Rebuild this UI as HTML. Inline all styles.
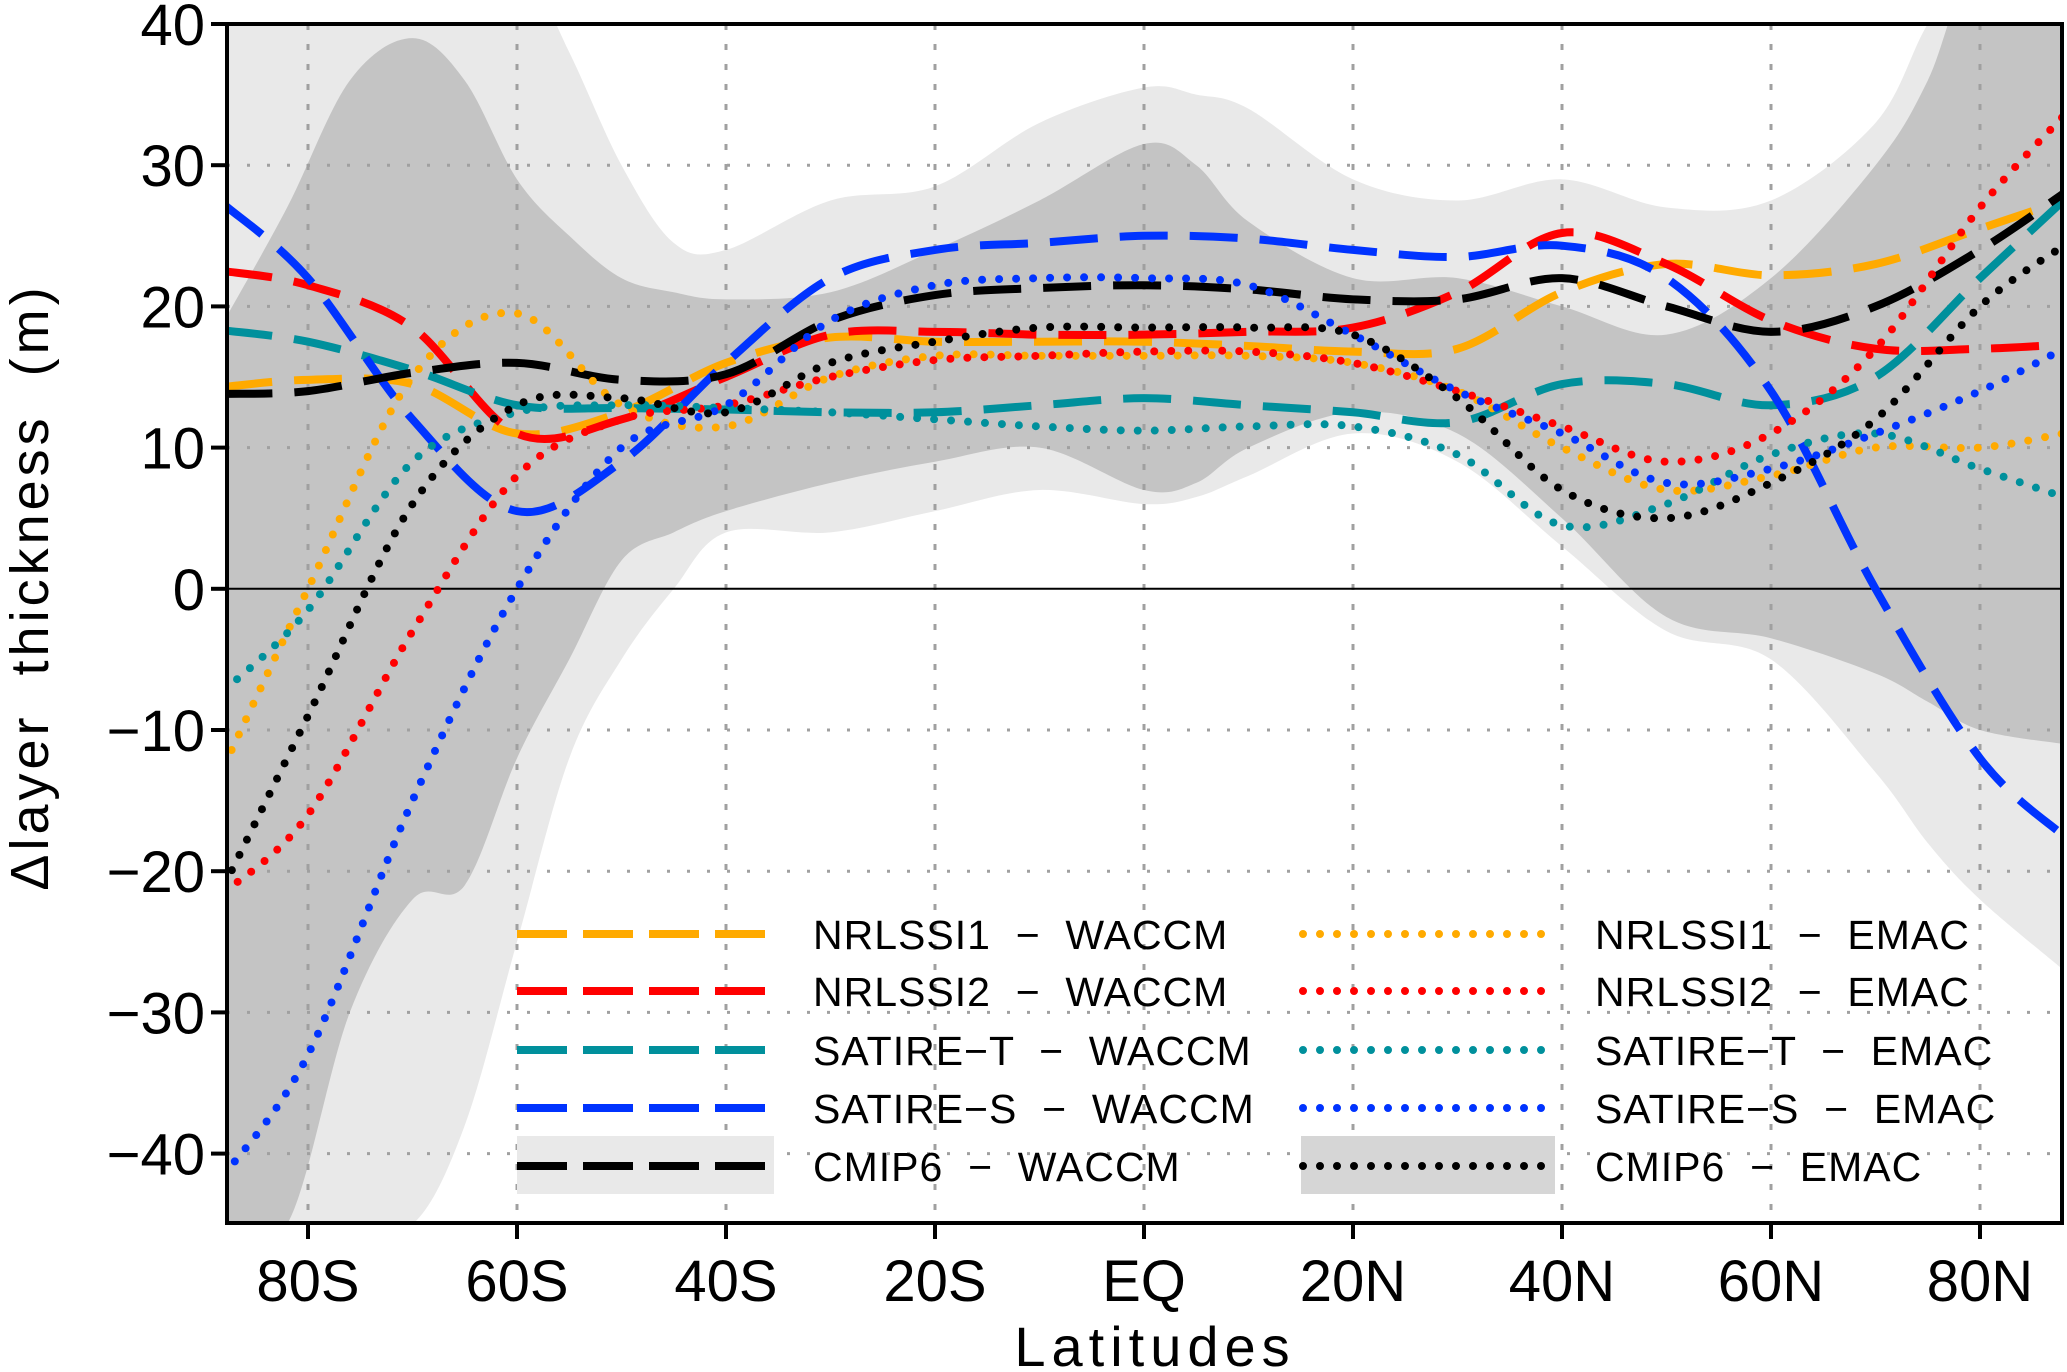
<!DOCTYPE html>
<html><head><meta charset="utf-8"><style>
body{margin:0;background:#fff}
svg{display:block}
text{font-family:"Liberation Sans",sans-serif;white-space:pre}
</style></head><body>
<svg id="chart" width="2067" height="1372" viewBox="0 0 2067 1372" xmlns="http://www.w3.org/2000/svg">
<g id="bands"></g>
<g id="grid"></g>
<g id="legendbg"></g>
<g id="series"></g>
<g id="axes"></g>
<g id="legend"></g>
</svg>
<script>
const lats = [-88,-80,-70,-60,-50,-40,-30,-20,-10,0,10,20,30,40,50,60,70,80,88];
const nrlssi1Waccm = [14.3,14.8,14.5,11,12.5,16,17.8,17.5,17.5,17.5,17.2,16.8,17,21,23,22.2,23,25.5,27.5];
const nrlssi2Waccm = [22.5,21.5,18.5,11,12,15,18,18.2,18,18,18.2,18.5,21,25.2,23,19,17,17,17.3];
const satireTWaccm = [18.3,17.5,15.5,13,12.8,12.7,12.5,12.5,13,13.5,13,12.5,11.8,14.5,14.5,13,15,22,27.5];
const satireSWaccm = [27.2,22,12,5.5,9,16,22,24,24.5,25,24.8,24,23.5,24.3,22,14,0,-12,-17.5];
const cmip6Waccm = [13.8,14,15.3,16,14.8,15.2,19,20.8,21.3,21.5,21.2,20.5,20.5,22,20,18.2,20,24,28];
const nrlssi1Emac = [-12.5,0,15,19.5,13,11.5,15,16.5,16.5,16.5,16.5,16,14,10,7,8,10,10,11];
const nrlssi2Emac = [-21.5,-16,-3,8,12,13,15,16.2,16.5,16.8,16.8,16,14,11.5,9,11,17,27,33.5];
const satireTEmac = [-7.2,-1.5,9,12.5,13,12.8,12.5,12,11.5,11.2,11.5,11.5,9.5,4.5,6,9.5,11,8.5,6.5];
const satireSEmac = [-41.5,-33,-15,0,10,13,19,21.5,22,22,21.5,18,14,11,7.5,8.5,11,14,17];
const cmip6Emac = [-21,-9,6,13,13.5,12.5,16,17.5,18.5,18.5,18.5,18,13.5,7,5,7.5,12,20,24.3];

const bandLats = [-88,-82,-76,-70,-65,-60,-55,-50,-45,-40,-30,-20,-10,0,5,10,20,30,40,50,60,70,75,80,88];
const lightUpper = [45,45,45,45,45,45,38,30,24.5,24,27.5,28.5,33,35.5,35,34,29,27.5,29,27,27.5,33,40,45,45];
const lightLower = [-45,-45,-45,-45,-38,-25,-12,-5,0,4,4,5.5,7,6,6.5,8,11,9,3,-3,-5,-13,-18,-22,-27];
const darkUpper = [19,27,36,39,36,29,25,22,21,20.5,21,24,27.5,31.5,30,26,22,22,20,18,22,30,36,45,45];
const darkLower = [-45,-45,-30,-22,-21,-12,-5,2,4,5.5,7.5,9,10,7,7.5,10,12.5,11,5,-2,-3.5,-6,-8,-10,-11];

const xTicks = [-80,-60,-40,-20,0,20,40,60,80];
const xTickLabels = ["80S","60S","40S","20S","EQ","20N","40N","60N","80N"];
const yTicks = [-40,-30,-20,-10,0,10,20,30,40];

const L=227,R=2062,T=24,B=1223;
const xS = v => 1144 + v*10.45;
const yS = v => T + (40 - v)*14.12;
const NS="http://www.w3.org/2000/svg";
function mk(tag,attrs,parent){const e=document.createElementNS(NS,tag);for(const k in attrs)e.setAttribute(k,attrs[k]);parent.appendChild(e);return e;}

function smooth(xs,ys){
  const p=xs.map((x,i)=>[xS(x),yS(ys[i])]);
  let d=`M${p[0][0]},${p[0][1]}`;
  for(let i=0;i<p.length-1;i++){
    const p0=p[i-1]||p[i],p1=p[i],p2=p[i+1],p3=p[i+2]||p[i+1];
    const c1=[p1[0]+(p2[0]-p0[0])/6,p1[1]+(p2[1]-p0[1])/6];
    const c2=[p2[0]-(p3[0]-p1[0])/6,p2[1]-(p3[1]-p1[1])/6];
    d+=` C${c1[0]},${c1[1]} ${c2[0]},${c2[1]} ${p2[0]},${p2[1]}`;
  }
  return d;
}
function bandPath(up,lo){
  const a=smooth(bandLats,up);
  const rl=bandLats.slice().reverse(), rv=lo.slice().reverse();
  const b=smooth(rl,rv).replace(/^M/,'L');
  return a+' '+b+' Z';
}
const svg=document.getElementById('chart');
const defs=mk('defs',{},svg);
const cp=mk('clipPath',{id:'clip'},defs);
mk('rect',{x:L,y:T,width:R-L,height:B-T},cp);

const bands=document.getElementById('bands');
bands.setAttribute('clip-path','url(#clip)');
let e=mk('path',{d:bandPath(lightUpper,lightLower),fill:'#e9e9e9'},bands);


e=mk('path',{d:bandPath(darkUpper,darkLower),fill:'#c4c4c4'},bands);



const grid=document.getElementById('grid');
xTicks.forEach(v=>{const g=mk('line',{x1:xS(v),x2:xS(v),y1:T,y2:B,stroke:'#a0a0a0','stroke-width':3,'stroke-dasharray':'6 14'},grid);

});
yTicks.forEach(v=>{if(v===0)return;const g=mk('line',{x1:L,x2:R,y1:yS(v),y2:yS(v),stroke:'#a0a0a0','stroke-width':3,'stroke-dasharray':'3 17'},grid);

});
e=mk('line',{x1:L,x2:R,y1:yS(0),y2:yS(0),stroke:'#000','stroke-width':2},grid);



const lbg=document.getElementById('legendbg');
e=mk('rect',{x:517,y:1136,width:257,height:58,fill:'#e9e9e9'},lbg);


e=mk('rect',{x:1301,y:1136,width:254,height:58,fill:'#d6d6d6'},lbg);



const seriesDefs=[
 [nrlssi1Waccm,'#ffaa00',true,'NRLSSI1  −  WACCM'],
 [nrlssi2Waccm,'#ff0000',true,'NRLSSI2  −  WACCM'],
 [satireTWaccm,'#00909c',true,'SATIRE−T  −  WACCM'],
 [satireSWaccm,'#0033ff',true,'SATIRE−S  −  WACCM'],
 [cmip6Waccm,'#000000',true,'CMIP6  −  WACCM'],
 [nrlssi1Emac,'#ffaa00',false,'NRLSSI1  −  EMAC'],
 [nrlssi2Emac,'#ff0000',false,'NRLSSI2  −  EMAC'],
 [satireTEmac,'#00909c',false,'SATIRE−T  −  EMAC'],
 [satireSEmac,'#0033ff',false,'SATIRE−S  −  EMAC'],
 [cmip6Emac,'#000000',false,'CMIP6  −  EMAC']
];
const sg=document.getElementById('series');
sg.setAttribute('clip-path','url(#clip)');
const lg=document.getElementById('legend');
const rowsY=[934,991,1050,1108,1166];
seriesDefs.forEach((s,i)=>{
  const st=s[2]?{stroke:s[1],'stroke-width':8,'stroke-dasharray':'48 22',fill:'none'}:{stroke:s[1],'stroke-width':8,'stroke-dasharray':'0 17','stroke-linecap':'round',fill:'none'};
  const p=mk('path',Object.assign({d:smooth(lats,s[0])},st),sg);
  
  
  const col=s[2]?0:1, row=i%5;
  const x0=col?1303:517, x1=col?1553:775, tx=col?1595:813, y=rowsY[row];
  const ll=mk('line',Object.assign({x1:x0,x2:x1,y1:y,y2:y},st),lg);
  if(s[2]) ll.setAttribute('stroke-dasharray','50 16');
  
  
  const t=mk('text',{x:tx,y:y+15,'font-size':41,fill:'#000','letter-spacing':1},lg);
  t.textContent=s[3];
  
  
});

const ax=document.getElementById('axes');
e=mk('rect',{x:L,y:T,width:R-L,height:B-T,fill:'none',stroke:'#000','stroke-width':4},ax);


xTicks.forEach((v,i)=>{
  const tk=mk('line',{x1:xS(v),x2:xS(v),y1:B,y2:B+16,stroke:'#000','stroke-width':4},ax);
  
  
  const t=mk('text',{x:xS(v),y:B+78,'font-size':58,'text-anchor':'middle'},ax);
  t.textContent=xTickLabels[i];
  
  
});
yTicks.forEach(v=>{
  const tk=mk('line',{x1:L-16,x2:L,y1:yS(v),y2:yS(v),stroke:'#000','stroke-width':4},ax);
  
  
  const t=mk('text',{x:L-22,y:yS(v)+21,'font-size':58,'text-anchor':'end'},ax);
  t.textContent=(v<0?'−':'')+Math.abs(v);
  
  
});
e=mk('text',{x:1155,y:1366,'font-size':56,'text-anchor':'middle','letter-spacing':6},ax);
e.textContent='Latitudes';


e=mk('text',{x:0,y:0,'font-size':54,'text-anchor':'middle','letter-spacing':4,transform:'translate(48,587) rotate(-90)'},ax);
e.textContent='Δlayer  thickness  (m)';


</script>
</body></html>
